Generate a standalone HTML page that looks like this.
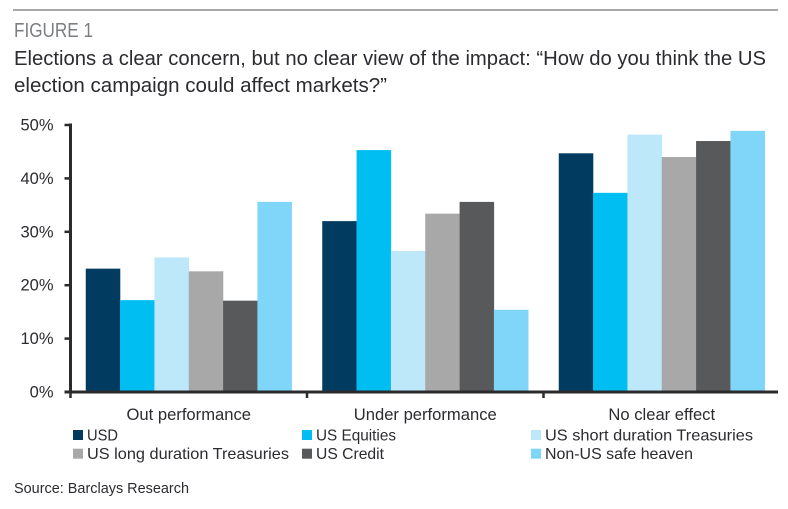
<!DOCTYPE html>
<html>
<head>
<meta charset="utf-8">
<style>
html,body{margin:0;padding:0;background:#fff;}
svg{display:block;font-family:"Liberation Sans",sans-serif;}
</style>
</head>
<body>
<svg id="chart" width="788" height="509" viewBox="0 0 788 509">
  <rect x="13" y="9" width="765" height="2" fill="#a8a8a8"/>
  <text x="14" y="37" font-size="20" fill="#7b7f82" textLength="79" lengthAdjust="spacingAndGlyphs">FIGURE 1</text>
  <text x="14" y="65" font-size="20" fill="#2b2b30" textLength="752" lengthAdjust="spacingAndGlyphs">Elections a clear concern, but no clear view of the impact: “How do you think the US</text>
  <text x="14" y="92" font-size="20" fill="#2b2b30" textLength="373" lengthAdjust="spacingAndGlyphs">election campaign could affect markets?”</text>
  <g id="bars"></g>
  <g id="axes"></g>
  <g id="legend"></g>
  <text x="14" y="493" font-size="14.5" fill="#2b2b30" textLength="175" lengthAdjust="spacingAndGlyphs">Source: Barclays Research</text>
</svg>
<script>
var categories = ["Out performance", "Under performance", "No clear effect"];
var seriesNames = ["USD", "US Equities", "US short duration Treasuries", "US long duration Treasuries", "US Credit", "Non-US safe heaven"];
var usd = [23.1, 32.0, 44.7];
var usEquities = [17.2, 45.3, 37.3];
var usShort = [25.2, 26.4, 48.2];
var usLong = [22.6, 33.4, 44.0];
var usCredit = [17.1, 35.6, 47.0];
var nonUs = [35.6, 15.4, 48.9];
var yTicks = [0, 10, 20, 30, 40, 50];

var seriesValues = [usd, usEquities, usShort, usLong, usCredit, nonUs];
var colors = ["#023b60", "#00bdf2", "#bce8fa", "#a8a8a8", "#58595b", "#7fd6f9"];
var legendWidths = [31, 80, 208, 202, 68, 148];
var NS = "http://www.w3.org/2000/svg";
var plotLeft = 70.5, plotRight = 780, axisEnd = 778, plotBase = 392, plotTop = 125, yMax = 50;

function yScale(v) { return plotBase - (v / yMax) * (plotBase - plotTop); }
function bandWidth() { return (plotRight - plotLeft) / categories.length; }
function make(tag, attrs, parent, txt) {
  var el = document.createElementNS(NS, tag);
  for (var k in attrs) el.setAttribute(k, attrs[k]);
  if (txt !== undefined) el.textContent = txt;
  parent.appendChild(el);
  return el;
}

var barsG = document.getElementById("bars");
var axesG = document.getElementById("axes");
var legendG = document.getElementById("legend");
var bw = bandWidth();
var barW = bw * 0.871 / seriesValues.length;

seriesValues.forEach(function (vals, s) {
  vals.forEach(function (v, c) {
    var x = plotLeft + c * bw + (bw - barW * seriesValues.length) / 2 + s * barW;
    var r = make("rect", {x: x, y: yScale(v), width: barW + 0.2, height: plotBase - yScale(v), fill: colors[s]}, barsG);
    
    
  });
});

var yAxis = make("line", {x1: plotLeft, x2: plotLeft, y1: plotTop - 1.5, y2: plotBase + 1.5, stroke: "#2b2b2e", "stroke-width": 3}, axesG);



var xAxis = make("line", {x1: plotLeft - 6, x2: axisEnd, y1: plotBase, y2: plotBase, stroke: "#2b2b2e", "stroke-width": 3}, axesG);



yTicks.forEach(function (t) {
  var y = yScale(t);
  var tick = make("line", {x1: plotLeft - 6, x2: plotLeft, y1: y, y2: y, stroke: "#2b2b2e", "stroke-width": 2.5}, axesG);
  
  
  var label = make("text", {x: 53.5, y: y + 5.5, "text-anchor": "end", "font-size": 16.5, fill: "#2b2b30"}, axesG, t + "%");
  
  
});

categories.forEach(function (name, c) {
  var x = plotLeft + c * bw;
  var tick = make("line", {x1: x, x2: x, y1: plotBase, y2: plotBase + 6, stroke: "#2b2b2e", "stroke-width": 2.5}, axesG);
  
  
  var label = make("text", {x: x + bw / 2, y: 420, "text-anchor": "middle", "font-size": 16.6, fill: "#2b2b30"}, axesG, name);
  
  
});

seriesNames.forEach(function (name, i) {
  var col = i % 3, row = Math.floor(i / 3);
  var sx = [73, 302, 531][col];
  var sy = 430 + row * 18.7;
  var sw = make("rect", {x: sx, y: sy, width: 10, height: 10, fill: colors[i]}, legendG);
  
  
  var label = make("text", {x: sx + 14, y: sy + 10.5, "font-size": 16, fill: "#2b2b30", textLength: legendWidths[i], lengthAdjust: "spacingAndGlyphs"}, legendG, name);
  
  
});
</script>
</body>
</html>
